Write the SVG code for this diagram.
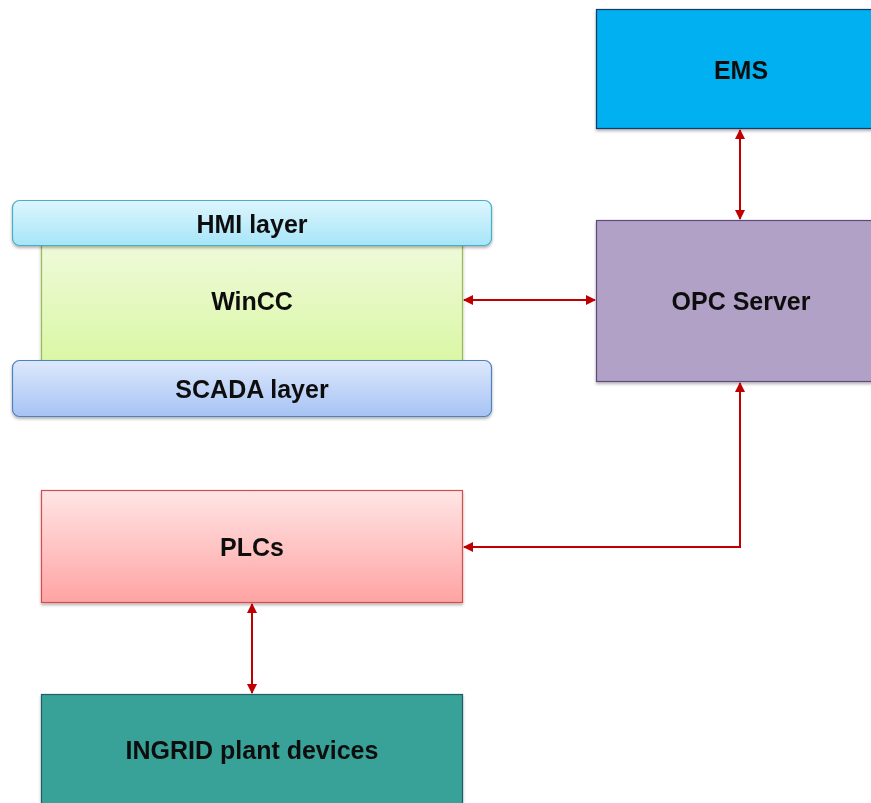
<svg xmlns="http://www.w3.org/2000/svg" width="871" height="803" viewBox="0 0 871 803">
<defs>
<linearGradient id="gHmi" x1="0" y1="0" x2="0" y2="1"><stop offset="0" stop-color="#DDF6FD"/><stop offset="1" stop-color="#A6E5F8"/></linearGradient>
<linearGradient id="gWin" x1="0" y1="0" x2="0" y2="1"><stop offset="0" stop-color="#F0FADC"/><stop offset="1" stop-color="#D9F7A3"/></linearGradient>
<linearGradient id="gScada" x1="0" y1="0" x2="0" y2="1"><stop offset="0" stop-color="#DDE8FB"/><stop offset="1" stop-color="#A6C3F5"/></linearGradient>
<linearGradient id="gPlc" x1="0" y1="0" x2="0" y2="1"><stop offset="0" stop-color="#FFE5E5"/><stop offset="1" stop-color="#FFA3A3"/></linearGradient>
<filter id="sh" x="-5%" y="-5%" width="110%" height="120%"><feDropShadow dx="0" dy="2" stdDeviation="1.5" flood-color="#000" flood-opacity="0.3"/></filter>
<marker id="ah" viewBox="0 0 10 10" refX="9" refY="5" markerWidth="5" markerHeight="5" orient="auto-start-reverse"><path d="M0,0 L10,5 L0,10 z" fill="#C00000"/></marker>
</defs>
<style>
text{font-family:"Liberation Sans",Arial,sans-serif;font-weight:bold;font-size:25px;fill:#111;text-anchor:middle;dominant-baseline:central}
.c{fill:none;stroke:#C00000;stroke-width:2}
</style>
<rect width="871" height="803" fill="#fff"/>
<g id="ems" filter="url(#sh)"><rect x="596.5" y="9.5" width="280" height="119" fill="#00B0F0" stroke="#1F3864" stroke-width="1.2"/><text x="741" y="70">EMS</text></g>
<g id="opc" filter="url(#sh)"><rect x="596.5" y="220.5" width="280" height="161" fill="#B1A1C7" stroke="#5F497A" stroke-width="1.2"/><text x="741" y="301">OPC Server</text></g>
<g id="wincc" filter="url(#sh)"><rect x="41.5" y="240.5" width="421" height="124" fill="url(#gWin)" stroke="#9BBB59" stroke-width="1.2"/><text x="252" y="301">WinCC</text></g>
<g id="hmi" filter="url(#sh)"><rect x="12.5" y="200.5" width="479" height="45" rx="7" fill="url(#gHmi)" stroke="#4BACC6" stroke-width="1.2"/><text x="252" y="224">HMI layer</text></g>
<g id="scada" filter="url(#sh)"><rect x="12.5" y="360.5" width="479" height="56" rx="7" fill="url(#gScada)" stroke="#4F81BD" stroke-width="1.2"/><text x="252" y="389">SCADA layer</text></g>
<g id="plcs" filter="url(#sh)"><rect x="41.5" y="490.5" width="421" height="112" fill="url(#gPlc)" stroke="#D05050" stroke-width="1.2"/><text x="252" y="547">PLCs</text></g>
<g id="ingrid" filter="url(#sh)"><rect x="41.5" y="694.5" width="421" height="120" fill="#38A198" stroke="#215F6B" stroke-width="1.2"/><text x="252" y="750">INGRID plant devices</text></g>
<g id="connectors">
<line class="c" x1="740" y1="130" x2="740" y2="219" marker-start="url(#ah)" marker-end="url(#ah)"/>
<line class="c" x1="464" y1="300" x2="595" y2="300" marker-start="url(#ah)" marker-end="url(#ah)"/>
<polyline class="c" points="740,383 740,547 464,547" marker-start="url(#ah)" marker-end="url(#ah)"/>
<line class="c" x1="252" y1="604" x2="252" y2="693" marker-start="url(#ah)" marker-end="url(#ah)"/>
</g>
</svg>
